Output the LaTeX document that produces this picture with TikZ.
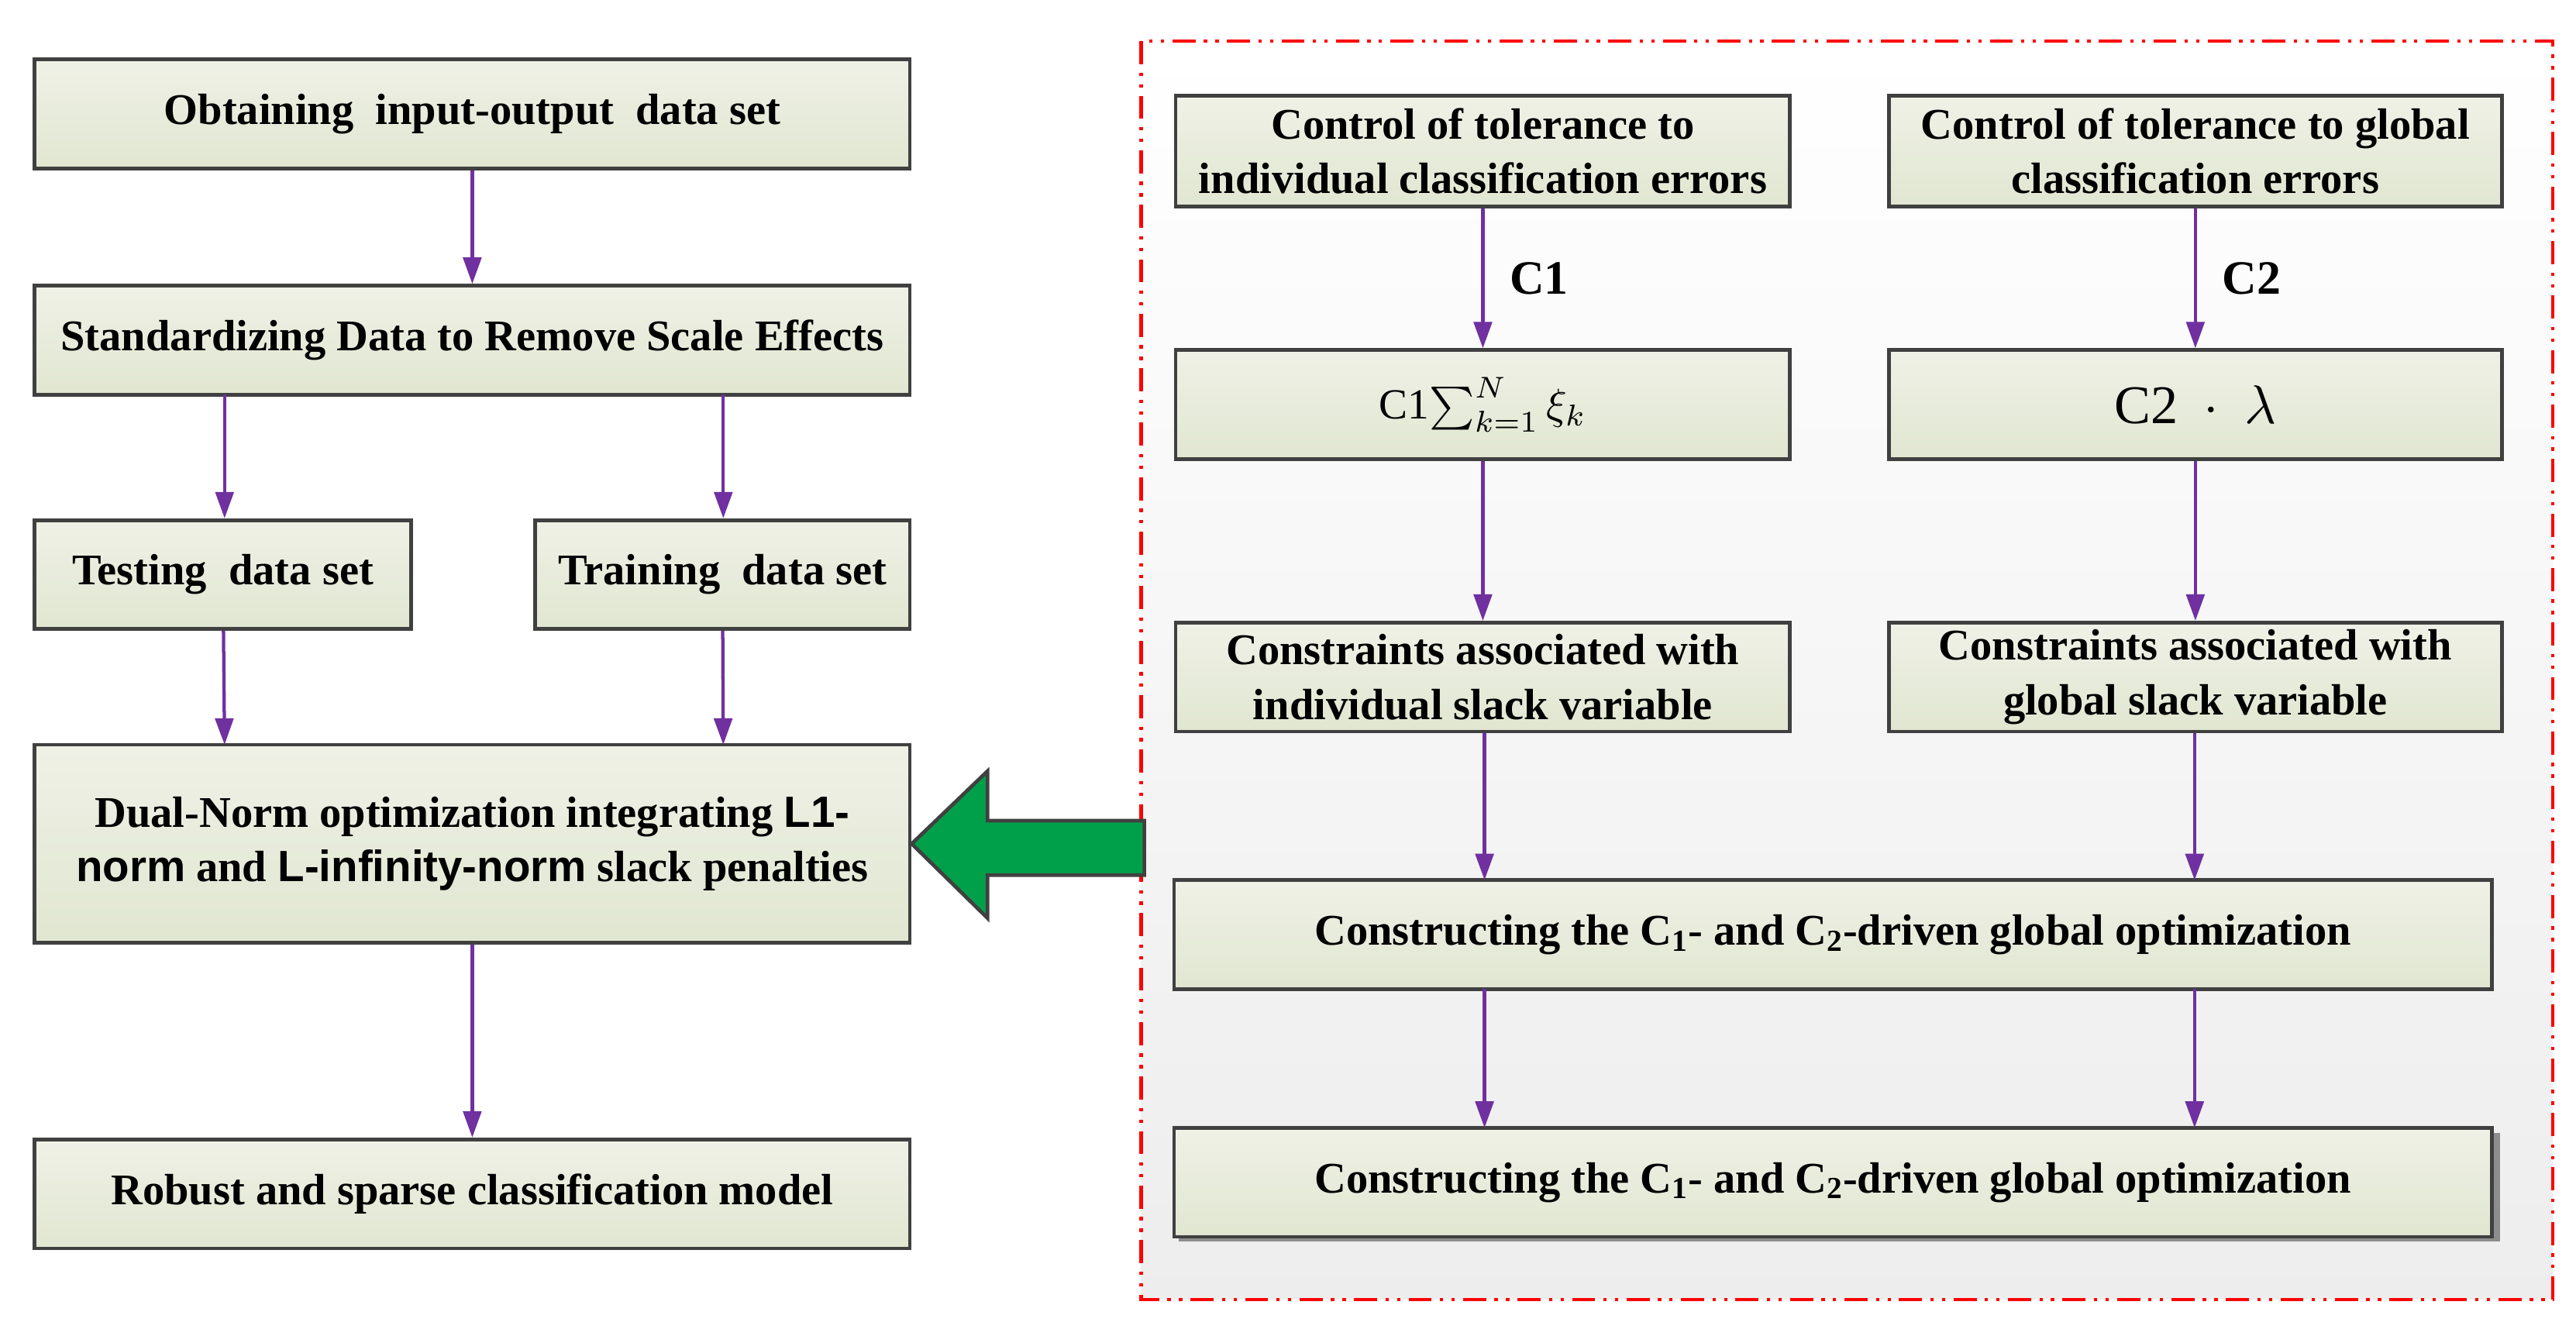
\documentclass[tikz,border=0pt]{standalone}
\usepackage{fontspec}
\setmainfont{Liberation Serif}
\newfontfamily\sansf{Liberation Sans}
\usetikzlibrary{arrows.meta}
\definecolor{bord}{HTML}{404040}
\definecolor{purp}{HTML}{7030A0}
\definecolor{gtop}{HTML}{EFF1E6}
\definecolor{gbot}{HTML}{E1E6D1}
\definecolor{grn}{HTML}{00A04A}
\begin{document}
\begin{tikzpicture}[x=1pt,y=-1pt,
  box/.style={draw=bord,line width=2.2pt,top color=gtop,bottom color=gbot,inner sep=2pt,align=center,font=\fontsize{26.5}{33}\selectfont\bfseries},
  arr/.style={draw=purp,line width=2pt,-{Triangle[width=11pt,length=16pt]}},
  lab/.style={font=\fontsize{29}{32}\selectfont\bfseries}]
\useasboundingbox (0,0) rectangle (1560,809);
\fill[top color=white,bottom color=black!7] (691,25) rectangle (1546,787);
\draw[red,line width=2pt,dash pattern=on 14pt off 5pt on 2pt off 5pt on 2pt off 5pt] (691,25) rectangle (1546,787);
% left column
\node[box,minimum width=530pt,minimum height=66pt] (b1) at (286,69) {Obtaining\ \ input-output\ \ data set};
\node[box,minimum width=530pt,minimum height=66pt] (b2) at (286,206) {Standardizing Data to Remove Scale Effects};
\node[box,minimum width=228pt,minimum height=66pt] (te) at (135,348) {Testing\ \ data set};
\node[box,minimum width=227pt,minimum height=66pt] (tr) at (437.5,348) {Training\ \ data set};
\node[box,minimum width=530pt,minimum height=120pt] (du) at (286,511) {Dual-Norm optimization integrating {\sansf L1-}\\{\sansf norm} and {\sansf L-infinity-norm} slack penalties};
\node[box,minimum width=530pt,minimum height=66pt] (ro) at (286,723) {Robust and sparse classification model};
\draw[arr] (b1) -- (b2);
\draw[arr] (136,239) -- (te.north-|136,0);
\draw[arr] (438,239) -- (tr.north-|438,0);
\draw[arr] (te) -- (136,451);
\draw[arr] (tr) -- (438,451);
\draw[arr] (du) -- (ro);
% right
\node[box,minimum width=372pt,minimum height=67pt] (c1) at (898,91.5) {Control of tolerance to\\individual classification errors};
\node[box,minimum width=371pt,minimum height=67pt] (c2) at (1329.5,91.5) {Control of tolerance to global\\classification errors};
\node[box,minimum width=372pt,minimum height=66pt,font=\normalfont] (s1) at (898,245) {\scalebox{2.6}{$\mathrm{C1}{\textstyle\sum}_{k=1}^{N}\,\xi_{k}$}};
\node[box,minimum width=371pt,minimum height=66pt,font=\normalfont] (s2) at (1329.5,245) {\scalebox{3.3}{$\mathrm{C2}\ \cdot\ \lambda$}};
\node[box,minimum width=372pt,minimum height=66pt] (k1) at (898,410) {Constraints associated with\\individual slack variable};
\node[box,minimum width=371pt,minimum height=66pt] (k2) at (1329.5,410) {Constraints associated with\\global slack variable};
\node[box,minimum width=798pt,minimum height=66pt] (g1) at (1110,566) {Constructing the C\textsubscript{1}- and C\textsubscript{2}-driven global optimization};
\fill[bord!60] (714,686) rectangle (1514,752);
\node[box,minimum width=798pt,minimum height=66pt] (g2) at (1110,716) {Constructing the C\textsubscript{1}- and C\textsubscript{2}-driven global optimization};
\draw[arr] (c1) -- node[lab,right=12pt]{C1} (s1);
\draw[arr] (c2) -- node[lab,right=12pt]{C2} (s2);
\draw[arr] (s1) -- (k1);
\draw[arr] (s2) -- (k2);
\draw[arr] (k1.south-|899,0) -- (899,533);
\draw[arr] (k2.south-|1329,0) -- (1329,533);
\draw[arr] (899,599) -- (899,683);
\draw[arr] (1329,599) -- (1329,683);
% big green arrow
\draw[bord,line width=2.2pt,fill=grn,line join=miter] (du.east) -- (598,467) -- (598,497) -- (693,497) -- (693,530) -- (598,530) -- (598,556) -- cycle;
\end{tikzpicture}
\end{document}
